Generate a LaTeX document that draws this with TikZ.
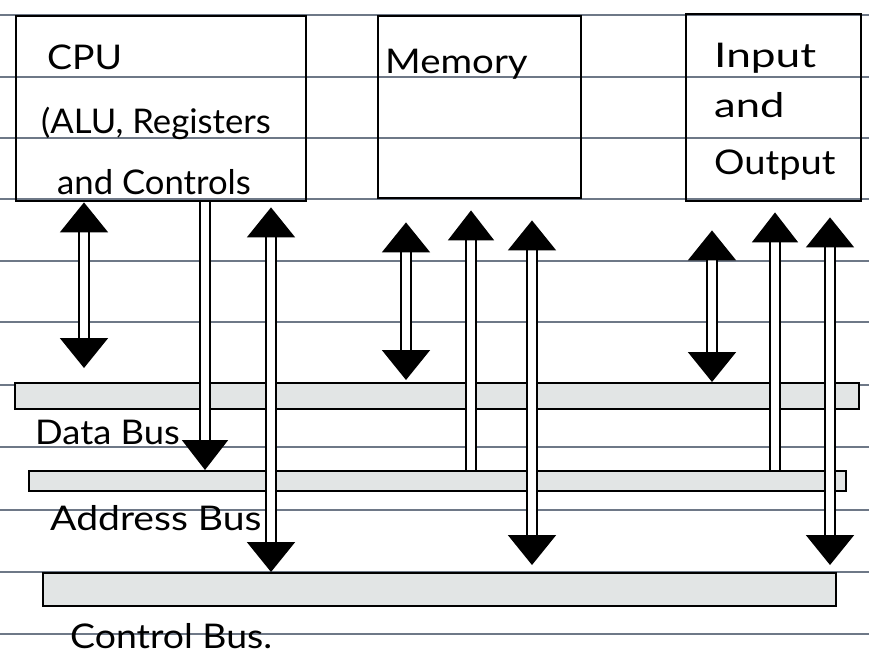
\documentclass[tikz,border=0pt]{standalone}
\usepackage{fontspec}
\setmainfont{Lato}
\usetikzlibrary{arrows.meta}
\definecolor{ruled}{RGB}{110,120,135}
\definecolor{busfill}{RGB}{226,229,229}
\newcommand\hwide[2]{\scalebox{#1}[1]{#2}}
\tikzset{
  rule/.style={draw=ruled, line width=1.3pt},
  box/.style={draw, line width=2.4pt, inner sep=0pt, anchor=north west},
  busbar/.style={draw, line width=1.8pt, fill=busfill, inner sep=0pt, anchor=north west},
  hand/.style={inner sep=0pt, anchor=west, font=\fontsize{34}{38}\selectfont},
  dbl/.style={line width=2pt, double=white, double distance=8pt},
  headA/.style={dbl, {Triangle[length=30pt,width=48pt]}-{Triangle[length=30pt,width=48pt]}},
  headB/.style={dbl, -{Triangle[length=30pt,width=46pt]}}
}
\begin{document}
\begin{tikzpicture}[x=1pt,y=-1pt]
\useasboundingbox (0,0) rectangle (869,657);
\fill[white] (0,0) rectangle (869,657);
% ruled paper
\foreach \yy in {15,77,138,199,261,322,385,447,510,572,634}
  \draw[rule] (0,\yy) -- (869,\yy);
% boxes
\node[box, minimum width=290pt, minimum height=185pt] (cpu) at (15,15) {};
\node[box, minimum width=203pt, minimum height=182pt] (mem) at (377,15) {};
\node[box, minimum width=175pt, minimum height=187pt] (io) at (685,13) {};
% buses
\node[busbar, minimum width=844pt, minimum height=26pt] (data) at (14,382) {};
\node[busbar, minimum width=817pt, minimum height=20pt] (addr) at (28,470) {};
\node[busbar, minimum width=793pt, minimum height=33pt] (ctrl) at (42,572) {};
% texts
\node[hand] (t1) at (47,57) {\hwide{1.1}{CPU}};
\node[hand] (t2) at (41,123) {\hwide{1.02}{(ALU, Registers}};
\node[hand] (t3) at (57,182) {\hwide{1.02}{and Controls}};
\node[hand] (t4) at (385,64) {\hwide{1.13}{Memory}};
\node[hand] (t5) at (714,58) {\hwide{1.3}{Input}};
\node[hand] (t6) at (714,105) {\hwide{1.28}{and}};
\node[hand] (t7) at (714,165) {\hwide{1.12}{Output}};
\node[hand] (t8) at (35,432) {\hwide{1.07}{Data Bus}};
\node[hand] (t9) at (50,518) {\hwide{1.15}{Address Bus}};
\node[hand] (t10) at (70,636) {\hwide{1.1}{Control Bus.}};
% columns
\coordinate (c1) at (84,0);
\coordinate (c2) at (205,0);
\coordinate (c3) at (271,0);
\coordinate (m1) at (406,0);
\coordinate (m2) at (471,0);
\coordinate (m3) at (532,0);
\coordinate (i1) at (712,0);
\coordinate (i2) at (775,0);
\coordinate (i3) at (830,0);
% CPU connectors
\draw[headA, shorten >=14pt] (cpu.south -| c1) -- (data.north -| c1);
\draw[headB] (cpu.south -| c2) -- (addr.north -| c2);
\draw[headA, shorten <=5pt] (cpu.south -| c3) -- (ctrl.north -| c3);
% Memory connectors
\draw[headA, shorten <=23pt, shorten >=2pt] (mem.south -| m1) -- (data.north -| m1);
\draw[headB, shorten >=11pt] (addr.north -| m2) -- (mem.south -| m2);
\draw[headA, shorten <=21pt, shorten >=7pt] (mem.south -| m3) -- (ctrl.north -| m3);
% I/O connectors
\draw[headA, shorten <=28pt] (io.south -| i1) -- (data.north -| i1);
\draw[headB, shorten >=10pt] (addr.north -| i2) -- (io.south -| i2);
\draw[headA, shorten <=15pt, shorten >=7pt] (io.south -| i3) -- (ctrl.north -| i3);
\end{tikzpicture}
\end{document}
